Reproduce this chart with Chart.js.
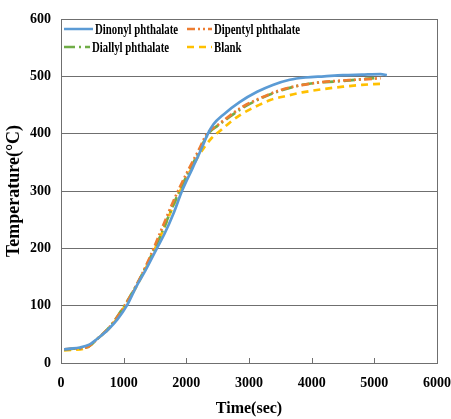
<!DOCTYPE html>
<html>
<head>
<meta charset="utf-8">
<script src="https://cdn.jsdelivr.net/npm/chart.js@4/dist/chart.umd.min.js"></script>
<style>
  body { margin: 0; background: #fff; }
  #wrap { width: 451px; height: 419px; }
</style>
</head>
<body>
<div id="wrap"><canvas id="chart"></canvas></div>
<script>
// series (time in sec, temperature in °C)
const seriesNames = ["Dinonyl phthalate", "Dipentyl phthalate", "Diallyl phthalate", "Blank"];

const dinonylTime = [50,150,300,450,600,750,900,1050,1200,1350,1530,1650,1800,1930,2100,2250,2345,2430,2600,2850,3130,3380,3650,3900,4200,4500,4800,5100,5200];
const dinonylTemp = [24,25,27,32,44,58,76,100,133,162,200,225,262,300,340,376,400,416,434,455,473,485,494,498,500,502,503,504,502];

const dipentylTime = [50,200,400,600,800,1000,1200,1400,1600,1800,2000,2200,2330,2500,2700,2900,3200,3500,3800,4100,4400,4700,5000,5100];
const dipentylTemp = [24,25,27,44,66,97,135,180,232,284,330,372,400,415,432,447,463,476,484,489,492,494,496,497];

const diallylTime = [50,200,400,600,800,1000,1200,1400,1600,1800,2000,2200,2350,2500,2700,2900,3200,3500,3800,4100,4400,4700,5000];
const diallylTemp = [23,25,27,44,66,98,135,178,225,278,325,368,400,414,430,445,462,475,484,489,491,494,497];

const blankTime = [50,200,400,600,800,1000,1200,1400,1600,1800,2000,2200,2400,2550,2700,2850,3100,3350,3600,3850,4200,4500,4800,5100];
const blankTemp = [22,23,26,44,64,96,133,176,224,276,322,362,392,406,420,432,447,459,466,472,478,482,485,487];

const xTicks = [0,1000,2000,3000,4000,5000,6000];
const yTicks = [0,100,200,300,400,500,600];

const pair = (xs, ys) => xs.map((x, i) => ({ x: x, y: ys[i] }));

const styles = [
    { color: "#5b9bd5", dash: [] },
    { color: "#ed7d31", dash: [8, 3, 2, 3, 2, 3] },
    { color: "#70ad47", dash: [11, 4, 2, 4] },
    { color: "#ffc000", dash: [7, 5] }
];
const allData = [
    pair(dinonylTime, dinonylTemp),
    pair(dipentylTime, dipentylTemp),
    pair(diallylTime, diallylTemp),
    pair(blankTime, blankTemp)
];

const datasets = seriesNames.map((name, i) => ({
    label: name,
    data: allData[i],
    borderColor: styles[i].color,
    backgroundColor: styles[i].color,
    borderDash: styles[i].dash,
    borderWidth: 2.7,
    pointRadius: 0,
    cubicInterpolationMode: "monotone",
    fill: false
}));

const gray = "#6f6f6f";
const serif = "'Liberation Serif', 'Times New Roman', serif";

// legend inside the plot, two columns, condensed text
const boxLegend = {
    id: "boxLegend",
    afterDraw(chart) {
        const ctx = chart.ctx;
        const area = chart.chartArea;
        const spots = [
            { x: area.left + 3, y: area.top + 10, len: 29 },
            { x: area.left + 126, y: area.top + 10, len: 25 },
            { x: area.left + 3, y: area.top + 28, len: 26 },
            { x: area.left + 126, y: area.top + 28, len: 25 }
        ];
        chart.data.datasets.forEach((ds, i) => {
            const s = spots[i];
            ctx.save();
            ctx.strokeStyle = ds.borderColor;
            ctx.lineWidth = 2.5;
            ctx.setLineDash(ds.borderDash);
            ctx.beginPath();
            ctx.moveTo(s.x, s.y);
            ctx.lineTo(s.x + s.len, s.y);
            ctx.stroke();
            ctx.setLineDash([]);
            ctx.fillStyle = "#000";
            ctx.font = "bold 15px " + serif;
            ctx.textBaseline = "middle";
            ctx.translate(s.x + s.len + 2, s.y + 1);
            ctx.scale(0.72, 1);
            ctx.fillText(ds.label, 0, 0);
            ctx.restore();
        });
    }
};

// small tick marks pointing up into the plot
const innerTicks = {
    id: "innerTicks",
    afterDatasetsDraw(chart) {
        const ctx = chart.ctx;
        const xs = chart.scales.x;
        const bottom = chart.chartArea.bottom;
        ctx.save();
        ctx.strokeStyle = gray;
        ctx.lineWidth = 1;
        xTicks.slice(1, -1).forEach(v => {
            const px = Math.round(xs.getPixelForValue(v)) + 0.5;
            ctx.beginPath();
            ctx.moveTo(px, bottom);
            ctx.lineTo(px, bottom - 5);
            ctx.stroke();
        });
        ctx.restore();
    }
};

new Chart(document.getElementById("chart"), {
    type: "line",
    data: { datasets },
    options: {
        responsive: true,
        maintainAspectRatio: false,
        animation: false,
        layout: { padding: { top: 19, right: 14, left: 0, bottom: 0 } },
        plugins: {
            legend: { display: false },
            tooltip: { enabled: false }
        },
        scales: {
            x: {
                type: "linear",
                min: 0, max: 6000,
                afterBuildTicks: (s) => { s.ticks = xTicks.map(v => ({ value: v })); },
                afterFit: (s) => { s.height = 56; s.paddingLeft = 0; s.paddingRight = 0; },
                ticks: { color: "#000", padding: 12, maxRotation: 0, callback: (v) => String(v), font: { family: serif, size: 14, weight: "bold" } },
                grid: {
                    drawTicks: false,
                    color: (c) => (c.tick && c.tick.value === 6000 ? gray : "rgba(0,0,0,0)")
                },
                border: { display: true, color: gray, width: 1 },
                title: { display: true, text: "Time(sec)", color: "#000", padding: { top: 2, bottom: 1 }, font: { family: serif, size: 16, weight: "bold" } }
            },
            y: {
                type: "linear",
                min: 0, max: 600,
                afterBuildTicks: (s) => { s.ticks = yTicks.map(v => ({ value: v })); },
                afterFit: (s) => { s.width = 61; s.paddingTop = 0; s.paddingBottom = 0; },
                ticks: { color: "#000", padding: 10, callback: (v) => String(v), font: { family: serif, size: 14, weight: "bold" } },
                grid: { drawTicks: false, color: gray, lineWidth: 1 },
                border: { display: true, color: gray, width: 1 },
                title: { display: true, text: "Temperature(°C)", color: "#000", padding: { top: 4, bottom: 4 }, font: { family: serif, size: 18, weight: "bold" } }
            }
        }
    },
    plugins: [boxLegend, innerTicks]
});
</script>
</body>
</html>
